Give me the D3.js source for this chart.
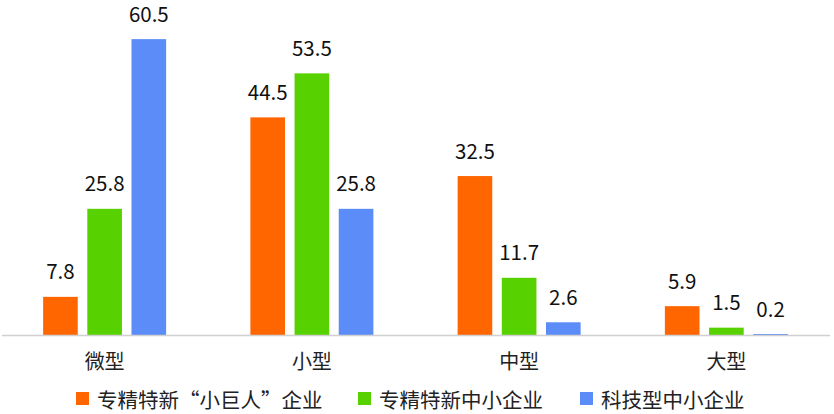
<!DOCTYPE html>
<html><head><meta charset="utf-8">
<script src="https://cdn.jsdelivr.net/npm/d3@7"></script>
<style>
html,body{margin:0;padding:0;background:#fff;}
svg{display:block;font-family:"Noto Sans CJK SC","Microsoft YaHei",sans-serif;}
</style></head>
<body>
<svg id="c" width="834" height="414"></svg>
<script>
const categories = ["微型", "小型", "中型", "大型"];
const seriesNames = ["专精特新“小巨人”企业", "专精特新中小企业", "科技型中小企业"];
const seriesColors = ["#FF6600", "#57D100", "#5B8CF7"];
const littleGiant = [7.8, 44.5, 32.5, 5.9];
const smeSpecial = [25.8, 53.5, 11.7, 1.5];
const techSme = [60.5, 25.8, 2.6, 0.2];
const seriesValues = [littleGiant, smeSpecial, techSme];

const svg = d3.select("#c");
const baseY = 335;
const y = d3.scaleLinear().domain([0, 68.5]).range([baseY, 0]);
const x0 = d3.scaleBand().domain(categories).range([1, 830]).padding(0);
const groupW = 123;
const x1 = d3.scaleBand().domain(seriesNames).range([0, groupW]).paddingInner(0.216).paddingOuter(0);

// bars
categories.forEach((c, ci) => {
  const gx = x0(c) + (x0.bandwidth() - groupW) / 2;
  seriesNames.forEach((s, si) => {
    const v = seriesValues[si][ci];
    const bx = gx + x1(s);
    svg.append("rect")
      .attr("x", bx).attr("width", x1.bandwidth())
      .attr("y", y(v)).attr("height", baseY - y(v))
      .attr("fill", seriesColors[si]);
    svg.append("text")
      .attr("x", bx + x1.bandwidth() / 2).attr("y", y(v) - 17.5)
      .attr("text-anchor", "middle").attr("font-size", 20.5).attr("fill", "#111")
      .text(v.toFixed(1));
  });
});

// axis
const axis = d3.axisBottom(x0).tickSize(0).tickPadding(20);
const ag = svg.append("g").attr("transform", `translate(0,${baseY})`).call(axis);
ag.select(".domain").attr("stroke", "#d0d0d0").attr("stroke-width", 1.5).attr("d", "M2,0.5H830");
ag.selectAll(".tick text").attr("font-size", 20).attr("fill", "#222")
  .attr("font-family", '"Noto Sans CJK SC","Microsoft YaHei",sans-serif');

// legend
const legX = [76, 358, 580];
const lg = svg.append("g");
seriesNames.forEach((s, i) => {
  lg.append("rect").attr("x", legX[i]).attr("y", 392).attr("width", 13).attr("height", 13).attr("fill", seriesColors[i]);
  lg.append("text").attr("x", legX[i] + 21).attr("y", 398.5).attr("dominant-baseline", "central")
    .attr("font-size", 20.5).attr("fill", "#222").text(s);
});
</script>
</body></html>
